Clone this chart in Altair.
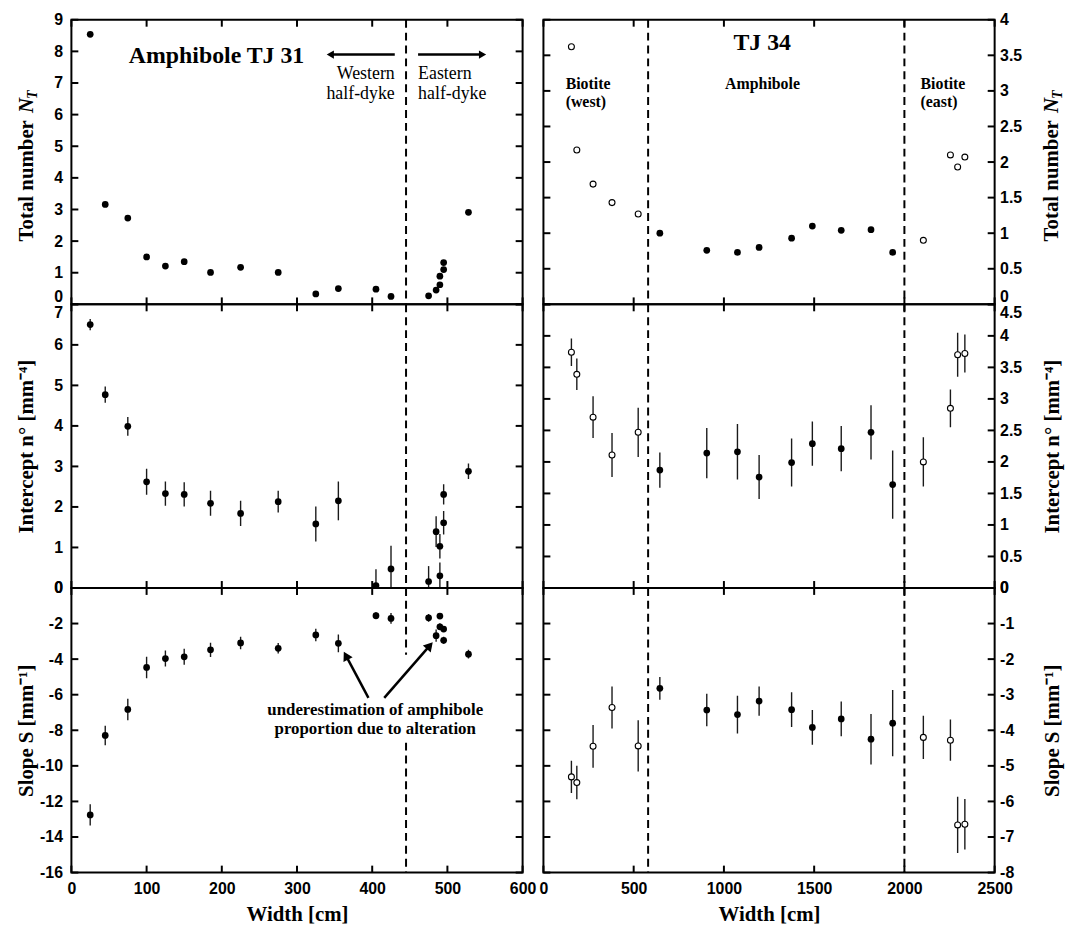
import math
import altair as alt
import pandas as pd

# ---------------- data: TJ 31 (amphibole, left column) ----------------
tj31_width = [25, 45, 75, 100, 125, 150, 185, 225, 275, 325, 355, 405, 425, 475, 485, 490, 490, 495, 495, 528]
tj31_nt = [8.54, 3.16, 2.73, 1.50, 1.21, 1.35, 1.01, 1.17, 1.01, 0.33, 0.50, 0.48, 0.25, 0.27, 0.45, 0.62, 0.89, 1.10, 1.32, 2.91]
tj31_intercept = [6.50, 4.77, 3.99, 2.62, 2.33, 2.31, 2.09, 1.84, 2.13, 1.58, 2.15, 0.06, 0.47, 0.16, 1.39, 0.30, 1.03, 1.61, 2.31, 2.88]
tj31_intercept_err = [0.14, 0.20, 0.23, 0.32, 0.30, 0.30, 0.31, 0.31, 0.27, 0.43, 0.48, 0.40, 0.57, 0.38, 0.38, 0.33, 0.30, 0.29, 0.25, 0.19]
tj31_slope = [-12.76, -8.29, -6.83, -4.47, -3.97, -3.87, -3.48, -3.09, -3.39, -2.64, -3.11, -1.56, -1.71, -1.68, -2.68, -1.58, -2.18, -2.31, -2.94, -3.72]
tj31_slope_err = [0.60, 0.55, 0.60, 0.60, 0.45, 0.45, 0.40, 0.35, 0.30, 0.35, 0.50, 0.20, 0.30, 0.22, 0.35, 0.15, 0.20, 0.15, 0.20, 0.25]

# ---------------- data: TJ 34 (right column) ----------------
tj34_bio_width = [155, 185, 275, 380, 525, 2105, 2255, 2295, 2335]
tj34_bio_nt = [3.62, 2.17, 1.69, 1.43, 1.27, 0.90, 2.10, 1.93, 2.07]
tj34_bio_intercept = [3.74, 3.39, 2.71, 2.11, 2.47, 2.00, 2.85, 3.70, 3.72]
tj34_bio_intercept_err = [0.22, 0.25, 0.33, 0.35, 0.39, 0.39, 0.30, 0.35, 0.30]
tj34_bio_slope = [-5.31, -5.47, -4.45, -3.36, -4.44, -4.20, -4.28, -6.66, -6.64]
tj34_bio_slope_err = [0.45, 0.47, 0.60, 0.59, 0.72, 0.61, 0.58, 0.79, 0.71]

tj34_amph_width = [645, 905, 1075, 1195, 1375, 1490, 1650, 1815, 1935]
tj34_amph_nt = [1.00, 0.76, 0.73, 0.80, 0.93, 1.10, 1.04, 1.05, 0.73]
tj34_amph_intercept = [1.87, 2.14, 2.16, 1.76, 1.99, 2.29, 2.21, 2.47, 1.64]
tj34_amph_intercept_err = [0.28, 0.40, 0.44, 0.35, 0.38, 0.35, 0.36, 0.43, 0.54]
tj34_amph_slope = [-2.82, -3.43, -3.56, -3.18, -3.42, -3.92, -3.68, -4.25, -3.80]
tj34_amph_slope_err = [0.32, 0.46, 0.53, 0.41, 0.49, 0.49, 0.49, 0.71, 0.93]

# ---------------- axes ----------------
left_xdom = [0, 600]
left_xticks = [0, 100, 200, 300, 400, 500, 600]
right_xdom = [0, 2500]
right_xticks = [0, 500, 1000, 1500, 2000, 2500]

left_nt_ticks = [0, 1, 2, 3, 4, 5, 6, 7, 8, 9]
left_int_ticks = [0, 1, 2, 3, 4, 5, 6, 7]
left_slope_ticks = [-16, -14, -12, -10, -8, -6, -4, -2, 0]
right_nt_ticks = [0, 0.5, 1, 1.5, 2, 2.5, 3, 3.5, 4]
right_int_ticks = [0, 0.5, 1, 1.5, 2, 2.5, 3, 3.5, 4, 4.5]
right_slope_ticks = [-8, -7, -6, -5, -4, -3, -2, -1, 0]

# boundaries (dashed lines)
left_boundaries = [445]
right_boundaries = [580, 2000]

# ---------------- annotations ----------------
left_top_title = {"x": [193], "y": [7.85], "t": ["Amphibole TJ 31"]}
west_text = {"x": [430, 430], "y": [7.27, 6.66], "t": ["Western", "half-dyke"]}
east_text = {"x": [461, 461], "y": [7.27, 6.66], "t": ["Eastern", "half-dyke"]}
west_arrow = (430, 7.9, 339, 7.9)
east_arrow = (461, 7.9, 552, 7.9)
right_top_title = {"x": [1212], "y": [3.67], "t": ["TJ 34"]}
zone_left_text = {"x": [123, 123, 2089, 2089], "y": [3.10, 2.85, 3.10, 2.85],
                  "t": ["Biotite", "(west)", "Biotite", "(east)"]}
zone_center_text = {"x": [1214], "y": [3.10], "t": ["Amphibole"]}
alter_text = {"x": [404, 404], "y": [-6.89, -7.95],
              "t": ["underestimation of amphibole", "proportion due to alteration"]}
alter_arrows = [(395, -6.18, 362.6, -3.61), (416, -6.18, 480, -3.07)]
alter_blank = {"x": [437], "x2": [453], "y": [-3.75], "y2": [-8.5]}

SANS = "Liberation Sans"
SERIF = "Liberation Serif"
W = 455
HS = [287, 286, 287]
TITLE_SIZE = 21
LABEL_SIZE = 16


def make_x(dom, ticks, bottom):
    if bottom:
        axis = alt.Axis(values=ticks, title="Width [cm]", ticks=False, tickSize=0, domain=False, grid=False,
                        labelExpr="'' + datum.value", labelFlush=False, labelOverlap=False,
                        labelFont=SANS, labelFontWeight="bold", labelFontSize=LABEL_SIZE, labelColor="black",
                        labelPadding=8, titleFont=SERIF, titleFontWeight="bold", titleFontSize=TITLE_SIZE,
                        titleColor="black", titleY=42, titleBaseline="middle")
    else:
        axis = None
    scale = alt.Scale(domain=dom, nice=False, zero=False)
    return lambda f="x": alt.X(f"{f}:Q", scale=scale, axis=axis)


def make_y(dom, ticks, side, title, special=None):
    if special is not None:
        lb = {"condition": {"test": f"datum.value == {special[0]}", "value": special[1]}, "value": "middle"}
    else:
        lb = "middle"
    kw = dict(values=ticks, orient=side, ticks=False, tickSize=0, domain=False, grid=False,
              labelExpr="'' + datum.value", labelBaseline=lb, labelFlush=False, labelOverlap=False,
              labelFont=SANS, labelFontWeight="bold", labelFontSize=LABEL_SIZE, labelColor="black",
              labelPadding=9 if side == "left" else 5, labelAlign="right" if side == "left" else "left")
    if title is None:
        kw["title"] = None
    else:
        kw.update(title=title, titleX=-45 if side == "left" else 58, titleAngle=270,
                  titleBaseline="middle", titleAlign="center", titleFont=SERIF, titleFontWeight="bold",
                  titleFontSize=TITLE_SIZE, titleColor="black")
    axis = alt.Axis(**kw)
    scale = alt.Scale(domain=dom, nice=False, zero=False)
    return lambda f="y": alt.Y(f"{f}:Q", scale=scale, axis=axis)


def tick_layers(X, Y, xdom, ydom, xticks, yticks):
    n, m = len(xticks), len(yticks)
    bot = pd.DataFrame({"x": xticks, "y": [ydom[0]] * n})
    top = pd.DataFrame({"x": xticks, "y": [ydom[1]] * n})
    lft = pd.DataFrame({"x": [xdom[0]] * m, "y": yticks})
    rgt = pd.DataFrame({"x": [xdom[1]] * m, "y": yticks})
    common = dict(thickness=2, size=7, color="black", opacity=1)
    return [
        alt.Chart(bot).mark_tick(orient="vertical", yOffset=-3.5, **common).encode(x=X(), y=Y()),
        alt.Chart(top).mark_tick(orient="vertical", yOffset=3.5, **common).encode(x=X(), y=Y()),
        alt.Chart(lft).mark_tick(orient="horizontal", xOffset=3.5, **common).encode(x=X(), y=Y()),
        alt.Chart(rgt).mark_tick(orient="horizontal", xOffset=-3.5, **common).encode(x=X(), y=Y()),
    ]


def vline_layer(X, xs):
    return alt.Chart(pd.DataFrame({"x": xs})).mark_rule(
        strokeDash=[8, 5], strokeWidth=2, color="black").encode(x=X())


def points(X, Y, xs, ys, filled):
    df = pd.DataFrame({"x": xs, "y": ys})
    if filled:
        m = alt.Chart(df).mark_point(shape="circle", filled=True, size=46, color="black", opacity=1)
    else:
        m = alt.Chart(df).mark_point(shape="circle", filled=False, size=36, color="black",
                                     fill="white", strokeWidth=1.1, opacity=1, fillOpacity=1)
    return m.encode(x=X(), y=Y())


def errbars(X, Y, xs, ys, es):
    df = pd.DataFrame({"x": xs, "lo": [y - e for y, e in zip(ys, es)], "hi": [y + e for y, e in zip(ys, es)]})
    return alt.Chart(df).mark_rule(strokeWidth=1.4, color="#1a1a1a", clip=True).encode(
        x=X(), y=Y("lo"), y2="hi:Q")


def texts(X, Y, d, size, weight, align, style="normal"):
    return alt.Chart(pd.DataFrame(d)).mark_text(
        font=SERIF, fontSize=size, fontWeight=weight, fontStyle=style, align=align,
        baseline="middle", color="black").encode(x=X(), y=Y(), text="t:N")


def arrow(X, Y, a, sx, sy, head, width):
    x0, y0, x1, y1 = a
    dxp = (x1 - x0) * sx
    dyp = (y1 - y0) * sy
    L = math.hypot(dxp, dyp)
    ux, uy = dxp / L, dyp / L
    ang = math.degrees(math.atan2(dxp, dyp)) % 360
    back = 4.0
    hx, hy = x1 - back * ux / sx, y1 - back * uy / sy
    line = alt.Chart(pd.DataFrame({"x": [x0], "y": [y0], "x2": [hx], "y2": [hy]})).mark_rule(
        strokeWidth=width, color="black").encode(x=X(), y=Y(), x2="x2:Q", y2="y2:Q")
    tip = alt.Chart(pd.DataFrame({"x": [hx], "y": [hy]})).mark_point(
        shape="triangle-up", angle=ang, filled=True, size=head, color="black", opacity=1).encode(x=X(), y=Y())
    return [line, tip]


def nt_title(xpix, h):
    start = h / 2 + 4 + 76
    main_w = 6.167 * TITLE_SIZE
    n_w = 0.667 * TITLE_SIZE
    one = pd.DataFrame({"a": [0]})
    base = dict(font=SERIF, fontWeight="bold", angle=270, align="left", baseline="middle", color="black")
    return [
        alt.Chart(one).mark_text(fontSize=TITLE_SIZE, **base).encode(
            x=alt.value(xpix), y=alt.value(start), text=alt.value("Total number ")),
        alt.Chart(one).mark_text(fontSize=TITLE_SIZE, fontStyle="italic", **base).encode(
            x=alt.value(xpix), y=alt.value(start - main_w), text=alt.value("N")),
        alt.Chart(one).mark_text(fontSize=14, fontStyle="italic", **base).encode(
            x=alt.value(xpix + 6), y=alt.value(start - main_w - n_w), text=alt.value("T")),
    ]


# ================= LEFT COLUMN =================
lsx = W / (left_xdom[1] - left_xdom[0])

X_lt = make_x(left_xdom, left_xticks, False)
Y_lt = make_y([0, 9], left_nt_ticks, "left", None, (0, "bottom"))
left_top = alt.layer(
    vline_layer(X_lt, left_boundaries),
    points(X_lt, Y_lt, tj31_width, tj31_nt, True),
    *tick_layers(X_lt, Y_lt, left_xdom, [0, 9], left_xticks, left_nt_ticks),
    texts(X_lt, Y_lt, left_top_title, 24, "bold", "center"),
    texts(X_lt, Y_lt, west_text, 18, "normal", "right"),
    texts(X_lt, Y_lt, east_text, 18, "normal", "left"),
    *arrow(X_lt, Y_lt, west_arrow, lsx, HS[0] / 9, 70, 2.5),
    *arrow(X_lt, Y_lt, east_arrow, lsx, HS[0] / 9, 70, 2.5),
    *nt_title(-45, HS[0]),
).properties(width=W, height=HS[0])

X_lm = make_x(left_xdom, left_xticks, False)
Y_lm = make_y([0, 7], left_int_ticks, "left", "Intercept n° [mm⁻⁴]", (7, "top"))
left_mid = alt.layer(
    vline_layer(X_lm, left_boundaries),
    errbars(X_lm, Y_lm, tj31_width, tj31_intercept, tj31_intercept_err),
    points(X_lm, Y_lm, tj31_width, tj31_intercept, True),
    *tick_layers(X_lm, Y_lm, left_xdom, [0, 7], left_xticks, left_int_ticks),
).properties(width=W, height=HS[1])

X_lb = make_x(left_xdom, left_xticks, True)
Y_lb = make_y([-16, 0], left_slope_ticks, "left", "Slope S [mm⁻¹]")
left_bot = alt.layer(
    vline_layer(X_lb, left_boundaries),
    alt.Chart(pd.DataFrame(alter_blank)).mark_rect(color="white", opacity=1).encode(
        x=X_lb(), x2="x2:Q", y=Y_lb(), y2="y2:Q"),
    errbars(X_lb, Y_lb, tj31_width, tj31_slope, tj31_slope_err),
    points(X_lb, Y_lb, tj31_width, tj31_slope, True),
    *tick_layers(X_lb, Y_lb, left_xdom, [-16, 0], left_xticks, left_slope_ticks),
    texts(X_lb, Y_lb, alter_text, 17, "bold", "center"),
    *arrow(X_lb, Y_lb, alter_arrows[0], lsx, HS[2] / 16, 110, 2.5),
    *arrow(X_lb, Y_lb, alter_arrows[1], lsx, HS[2] / 16, 110, 2.5),
).properties(width=W, height=HS[2])

# ================= RIGHT COLUMN =================
X_rt = make_x(right_xdom, right_xticks, False)
Y_rt = make_y([0, 4], right_nt_ticks, "right", None, (0, "bottom"))
right_top = alt.layer(
    vline_layer(X_rt, right_boundaries),
    points(X_rt, Y_rt, tj34_bio_width, tj34_bio_nt, False),
    points(X_rt, Y_rt, tj34_amph_width, tj34_amph_nt, True),
    *tick_layers(X_rt, Y_rt, right_xdom, [0, 4], right_xticks, right_nt_ticks),
    texts(X_rt, Y_rt, right_top_title, 24, "bold", "center"),
    texts(X_rt, Y_rt, zone_left_text, 16, "bold", "left"),
    texts(X_rt, Y_rt, zone_center_text, 16, "bold", "center"),
    *nt_title(W + 58, HS[0]),
).properties(width=W, height=HS[0])

X_rm = make_x(right_xdom, right_xticks, False)
Y_rm = make_y([0, 4.5], right_int_ticks, "right", "Intercept n° [mm⁻⁴]", (4.5, "top"))
right_mid = alt.layer(
    vline_layer(X_rm, right_boundaries),
    errbars(X_rm, Y_rm, tj34_bio_width, tj34_bio_intercept, tj34_bio_intercept_err),
    errbars(X_rm, Y_rm, tj34_amph_width, tj34_amph_intercept, tj34_amph_intercept_err),
    points(X_rm, Y_rm, tj34_bio_width, tj34_bio_intercept, False),
    points(X_rm, Y_rm, tj34_amph_width, tj34_amph_intercept, True),
    *tick_layers(X_rm, Y_rm, right_xdom, [0, 4.5], right_xticks, right_int_ticks),
).properties(width=W, height=HS[1])

X_rb = make_x(right_xdom, right_xticks, True)
Y_rb = make_y([-8, 0], right_slope_ticks, "right", "Slope S [mm⁻¹]")
right_bot = alt.layer(
    vline_layer(X_rb, right_boundaries),
    errbars(X_rb, Y_rb, tj34_bio_width, tj34_bio_slope, tj34_bio_slope_err),
    errbars(X_rb, Y_rb, tj34_amph_width, tj34_amph_slope, tj34_amph_slope_err),
    points(X_rb, Y_rb, tj34_bio_width, tj34_bio_slope, False),
    points(X_rb, Y_rb, tj34_amph_width, tj34_amph_slope, True),
    *tick_layers(X_rb, Y_rb, right_xdom, [-8, 0], right_xticks, right_slope_ticks),
).properties(width=W, height=HS[2])

left_col = alt.vconcat(left_top, left_mid, left_bot, spacing=0, bounds="flush")
right_col = alt.vconcat(right_top, right_mid, right_bot, spacing=0, bounds="flush")

chart = alt.hconcat(left_col, right_col, spacing=0).properties(
    padding={"left": 15, "top": 7, "right": 5, "bottom": 2},
    background="white",
).configure_view(stroke="black", strokeWidth=2)

chart.save("out.html", embed_options={"renderer": "svg", "actions": False})
